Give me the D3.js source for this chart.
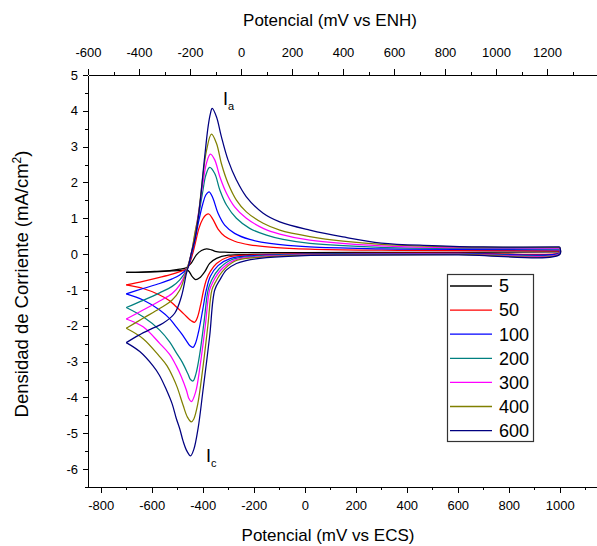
<!DOCTYPE html>
<html>
<head>
<meta charset="utf-8">
<script src="https://cdn.jsdelivr.net/npm/d3@7"></script>
<style>
  html, body { margin: 0; padding: 0; background: #fff; }
  svg { display: block; font-family: "Liberation Sans", Arial, sans-serif; }
</style>
</head>
<body>
<svg id="chart" width="597" height="546"></svg>
<script>
// ---------------- data ----------------
const scanRates = ["5", "50", "100", "200", "300", "400", "600"];
const seriesColors = ["#000000", "#ff0000", "#0000ff", "#008080", "#ff00ff", "#808000", "#000080"];

const ecsTicks = [-800, -600, -400, -200, 0, 200, 400, 600, 800, 1000];
const ecsMinorTicks = [-700, -500, -300, -100, 100, 300, 500, 700, 900, 1100];
const enhTicks = [-600, -400, -200, 0, 200, 400, 600, 800, 1000, 1200];
const enhMinorTicks = [-500, -300, -100, 100, 300, 500, 700, 900, 1100, 1300];
const currentTicks = [-6, -5, -4, -3, -2, -1, 0, 1, 2, 3, 4, 5];
const currentMinorTicks = [-6.5, -5.5, -4.5, -3.5, -2.5, -1.5, -0.5, 0.5, 1.5, 2.5, 3.5, 4.5];
const enhOffset = 250; // E(ENH) = E(ECS) + offset (mV)

// [E (mV vs ECS), j (mA/cm2)] : forward scan -700 -> 1000, then reverse 1000 -> -700
const cv5 = [
  [-700,-0.51],[-640,-0.50],[-580,-0.48],[-529,-0.46],[-490,-0.42],[-465,-0.38],[-445,-0.25],[-425,-0.02],
  [-405,0.10],[-385,0.15],[-366,0.12],[-346,0.07],[-300,0.05],[-200,0.04],[0,0.04],[300,0.05],[600,0.05],[1000,0.06],
  [1000,0.02],[700,0.01],[300,0.0],[0,0.0],[-200,-0.01],[-300,-0.03],[-346,-0.12],[-373,-0.26],[-392,-0.49],
  [-412,-0.66],[-428,-0.71],[-442,-0.62],[-457,-0.46],[-480,-0.45],[-550,-0.48],[-620,-0.50],[-700,-0.51]
];
const cv50 = [
  [-700,-0.86],[-634,-0.76],[-569,-0.65],[-520,-0.56],[-490,-0.49],[-461,-0.40],[-445,-0.12],[-430,0.28],
  [-415,0.72],[-400,0.98],[-388,1.09],[-376,1.12],[-360,0.97],[-340,0.70],[-314,0.50],[-275,0.36],[-216,0.26],
  [-124,0.19],[20,0.14],[300,0.11],[600,0.10],[1000,0.09],
  [1000,0.04],[600,0.03],[200,0.02],[0,0.01],[-200,-0.02],[-300,-0.08],[-346,-0.26],[-370,-0.48],[-386,-0.72],
  [-398,-1.05],[-408,-1.40],[-420,-1.75],[-431,-1.90],[-445,-1.86],[-464,-1.74],[-484,-1.60],[-504,-1.47],
  [-530,-1.30],[-569,-1.14],[-634,-0.96],[-700,-0.86]
];
const cv100 = [
  [-700,-1.11],[-634,-0.96],[-569,-0.82],[-520,-0.69],[-490,-0.58],[-461,-0.40],[-445,-0.05],[-430,0.42],
  [-415,0.95],[-400,1.40],[-388,1.65],[-375,1.74],[-360,1.56],[-340,1.14],[-314,0.81],[-275,0.58],[-216,0.41],
  [-137,0.30],[20,0.20],[300,0.15],[600,0.13],[1000,0.12],
  [1000,0.03],[600,0.02],[200,0.01],[0,0.0],[-200,-0.04],[-290,-0.12],[-340,-0.32],[-370,-0.62],[-386,-1.0],
  [-400,-1.55],[-415,-2.12],[-428,-2.48],[-438,-2.60],[-450,-2.56],[-464,-2.42],[-484,-2.21],[-504,-2.03],
  [-530,-1.80],[-569,-1.56],[-634,-1.28],[-700,-1.11]
];
const cv200 = [
  [-700,-1.49],[-634,-1.29],[-569,-1.08],[-520,-0.90],[-490,-0.72],[-461,-0.40],[-445,0.0],[-430,0.52],
  [-415,1.12],[-400,1.75],[-388,2.20],[-373,2.42],[-353,2.25],[-333,1.79],[-307,1.37],[-268,1.00],[-216,0.72],
  [-150,0.53],[-85,0.41],[20,0.30],[300,0.19],[600,0.16],[1000,0.15],
  [1000,0.02],[600,0.01],[200,0.0],[0,-0.01],[-200,-0.06],[-285,-0.15],[-335,-0.40],[-365,-0.72],[-379,-1.0],
  [-395,-1.90],[-412,-2.80],[-427,-3.35],[-438,-3.54],[-448,-3.50],[-457,-3.36],[-480,-3.02],[-504,-2.75],
  [-530,-2.45],[-569,-2.12],[-634,-1.75],[-700,-1.49]
];
const cv300 = [
  [-700,-1.81],[-634,-1.56],[-569,-1.31],[-520,-1.10],[-490,-0.86],[-461,-0.40],[-445,0.02],[-430,0.58],
  [-415,1.22],[-400,1.95],[-385,2.55],[-370,2.79],[-353,2.63],[-333,2.16],[-307,1.70],[-275,1.32],[-229,1.00],
  [-163,0.72],[-98,0.56],[20,0.39],[300,0.23],[600,0.18],[1000,0.17],
  [1000,0.01],[600,0.0],[200,-0.01],[0,-0.02],[-200,-0.08],[-280,-0.18],[-330,-0.45],[-358,-0.75],[-373,-1.0],
  [-390,-2.0],[-410,-3.10],[-428,-3.85],[-445,-4.12],[-455,-4.02],[-464,-3.80],[-484,-3.42],[-504,-3.12],
  [-530,-2.80],[-569,-2.49],[-634,-2.03],[-700,-1.81]
];
const cv400 = [
  [-700,-2.07],[-634,-1.79],[-569,-1.52],[-520,-1.28],[-490,-1.00],[-461,-0.40],[-445,0.02],[-430,0.62],
  [-418,1.05],[-400,2.15],[-385,2.90],[-366,3.35],[-346,3.09],[-327,2.53],[-301,1.98],[-268,1.51],[-229,1.18],
  [-163,0.86],[-98,0.67],[20,0.49],[150,0.36],[300,0.27],[600,0.20],[1000,0.19],
  [1000,0.0],[600,-0.01],[200,-0.02],[0,-0.03],[-200,-0.10],[-275,-0.20],[-325,-0.50],[-350,-0.78],[-364,-1.0],
  [-380,-2.0],[-400,-3.2],[-420,-4.2],[-435,-4.6],[-445,-4.68],[-460,-4.55],[-477,-4.22],[-500,-3.72],
  [-516,-3.45],[-540,-3.12],[-569,-2.86],[-634,-2.36],[-700,-2.07]
];
const cv600 = [
  [-700,-2.47],[-650,-2.26],[-600,-2.08],[-556,-1.93],[-510,-1.65],[-484,-1.19],[-464,-0.54],[-455,-0.30],
  [-445,0.02],[-430,0.45],[-418,1.0],[-408,1.6],[-399,2.26],[-389,2.95],[-379,3.56],[-370,3.92],[-363,4.07],
  [-346,3.83],[-327,3.28],[-301,2.63],[-268,2.07],[-229,1.60],[-163,1.14],[-98,0.90],[20,0.67],[150,0.48],
  [300,0.31],[500,0.24],[700,0.20],[1000,0.20],
  [1000,-0.01],[600,-0.02],[200,-0.03],[0,-0.04],[-150,-0.10],[-230,-0.18],[-268,-0.26],[-307,-0.44],
  [-333,-0.72],[-353,-1.0],[-373,-2.3],[-399,-3.8],[-418,-4.85],[-435,-5.45],[-448,-5.63],[-462,-5.50],
  [-477,-5.22],[-490,-4.88],[-504,-4.58],[-520,-4.18],[-543,-3.78],[-570,-3.38],[-595,-3.12],[-647,-2.72],[-700,-2.47]
];
const curves = [cv5, cv50, cv100, cv200, cv300, cv400, cv600];

// ---------------- chart ----------------
const svg = d3.select("#chart");
svg.append("rect").attr("width", 597).attr("height", 546).attr("fill", "#fff");

const mLeft = 88, mTop = 75, mBottom = 487, mRight = 598;
const x = d3.scaleLinear().domain([-850, 1150]).range([mLeft, mRight]);
const xTop = d3.scaleLinear().domain([-850 + enhOffset, 1150 + enhOffset]).range([mLeft, mRight]);
const y = d3.scaleLinear().domain([-6.5, 5]).range([mBottom, mTop]);

const tickFont = "13px";
function styleAxis(g) {
  g.selectAll("path, line").attr("stroke", "#000").attr("stroke-width", 1).attr("shape-rendering", "crispEdges");
  g.selectAll("text").attr("fill", "#000").style("font-size", tickFont)
    .style("font-family", '"Liberation Sans", Arial, sans-serif');
}
const intFmt = d => String(d);

// bottom
svg.append("g").attr("transform", `translate(0,${mBottom})`)
  .call(d3.axisBottom(x).tickValues(ecsMinorTicks).tickSize(3).tickSizeOuter(0).tickFormat(""))
  .call(styleAxis);
svg.append("g").attr("transform", `translate(0,${mBottom})`)
  .call(d3.axisBottom(x).tickValues(ecsTicks).tickSize(6).tickSizeOuter(0).tickPadding(8).tickFormat(intFmt))
  .call(styleAxis);
// top
svg.append("g").attr("transform", `translate(0,${mTop})`)
  .call(d3.axisTop(xTop).tickValues(enhMinorTicks).tickSize(3).tickSizeOuter(0).tickFormat(""))
  .call(styleAxis);
svg.append("g").attr("transform", `translate(0,${mTop})`)
  .call(d3.axisTop(xTop).tickValues(enhTicks).tickSize(6).tickSizeOuter(0).tickPadding(12).tickFormat(intFmt))
  .call(styleAxis);
// left
svg.append("g").attr("transform", `translate(${mLeft},0)`)
  .call(d3.axisLeft(y).tickValues(currentMinorTicks).tickSize(3).tickSizeOuter(0).tickFormat(""))
  .call(styleAxis);
svg.append("g").attr("transform", `translate(${mLeft},0)`)
  .call(d3.axisLeft(y).tickValues(currentTicks).tickSize(5).tickSizeOuter(0).tickPadding(5).tickFormat(intFmt))
  .call(styleAxis);

// curves: each cycle drawn as forward branch + reverse branch (sharp switching vertices)
const line = d3.line().x(d => x(d[0])).y(d => y(d[1])).curve(d3.curveCatmullRom.alpha(0.5));
const plot = svg.append("g");
curves.forEach((c, i) => {
  let k = 0;
  while (k < c.length - 1 && !(c[k][0] === 1000 && c[k + 1][0] === 1000)) k++;
  const branches = [c.slice(0, k + 1), c.slice(k)];
  branches.forEach(b => {
    plot.append("path").datum(b)
      .attr("d", line)
      .attr("fill", "none")
      .attr("stroke", seriesColors[i])
      .attr("stroke-width", 1.25)
      .attr("stroke-linejoin", "round");
  });
});

// peak labels
function peakLabel(px, py, sub) {
  const t = svg.append("text").attr("x", px).attr("y", py).attr("fill", "#000")
    .style("font-size", "18px");
  t.append("tspan").text("I");
  t.append("tspan").attr("dy", 5).style("font-size", "11px").text(sub);
}
peakLabel(223, 105, "a");
peakLabel(206, 462, "c");

// axis titles
svg.append("text").attr("x", 330).attr("y", 26).attr("text-anchor", "middle")
  .attr("fill", "#000").style("font-size", "17px").text("Potencial (mV vs ENH)");
svg.append("text").attr("x", 328).attr("y", 541).attr("text-anchor", "middle")
  .attr("fill", "#000").style("font-size", "17px").text("Potencial (mV vs ECS)");
const yt = svg.append("text").attr("transform", "translate(28,284) rotate(-90)").attr("text-anchor", "middle")
  .attr("fill", "#000").style("font-size", "18.5px");
yt.append("tspan").text("Densidad de Corriente (mA/cm");
yt.append("tspan").attr("dy", -7).style("font-size", "12px").text("2");
yt.append("tspan").attr("dy", 7).text(")");

// legend
const lg = svg.append("g");
lg.append("rect").attr("x", 447.5).attr("y", 274.5).attr("width", 86).attr("height", 167)
  .attr("fill", "#fff").attr("stroke", "#333").attr("stroke-width", 1.2);
scanRates.forEach((s, i) => {
  const ly = 286 + i * 24.1;
  lg.append("line").attr("x1", 450).attr("x2", 492).attr("y1", ly).attr("y2", ly)
    .attr("stroke", seriesColors[i]).attr("stroke-width", 1.3);
  lg.append("text").attr("x", 499).attr("y", ly).attr("dy", "0.35em").attr("fill", "#000")
    .style("font-size", "18px").text(s);
});
</script>
</body>
</html>
